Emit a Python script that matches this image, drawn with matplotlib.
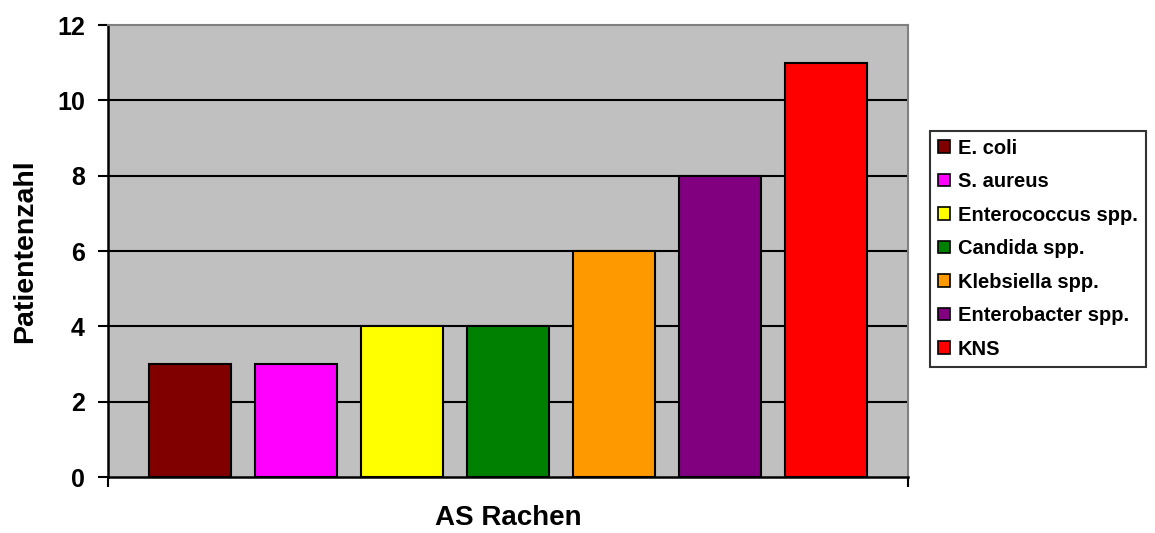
import matplotlib.pyplot as plt
from matplotlib.patches import Patch

categories = ['E. coli', 'S. aureus', 'Enterococcus spp.', 'Candida spp.',
              'Klebsiella spp.', 'Enterobacter spp.', 'KNS']
counts = [3, 3, 4, 4, 6, 8, 11]
colors = ['#800000', '#FF00FF', '#FFFF00', '#008000', '#FF9900', '#800080', '#FF0000']
y_ticks = [0, 2, 4, 6, 8, 10, 12]

plt.rcParams['font.family'] = ['Liberation Sans', 'DejaVu Sans']
plt.rcParams['font.weight'] = 'bold'

fig = plt.figure(figsize=(11.55, 5.33), dpi=100)
ax = fig.add_axes([0.0935, 0.105, 0.6925, 0.848])
ax.set_facecolor('#C0C0C0')

xs = list(range(len(categories)))
ax.bar(xs, counts, width=0.774, color=colors, edgecolor='black', linewidth=1.5, zorder=3)

ax.set_xlim(-0.77, len(categories) - 1 + 0.77)
ax.set_ylim(0, 12)

# horizontal grid lines (black, like the old Excel look)
for y in y_ticks[1:-1]:
    ax.axhline(y, color='black', linewidth=1.5, zorder=1)

ax.set_yticks(y_ticks)
ax.set_yticklabels([str(v) for v in y_ticks], fontsize=18, fontweight='bold')
ax.tick_params(axis='y', direction='out', length=7.2, width=1.5, pad=9.5)
ax.set_xticks(ax.get_xlim())
ax.set_xticklabels(['', ''])
ax.tick_params(axis='x', direction='out', length=7.2, width=1.5)

for side in ['left', 'bottom']:
    ax.spines[side].set_color('black')
    ax.spines[side].set_linewidth(1.8)
for side in ['top', 'right']:
    ax.spines[side].set_color('#808080')
    ax.spines[side].set_linewidth(1.5)

ax.set_ylabel('Patientenzahl', fontsize=20.5, fontweight='bold')
ax.yaxis.set_label_coords(-0.087, 0.5)
ax.set_xlabel('AS Rachen', fontsize=20, fontweight='bold', va='top')
ax.xaxis.set_label_coords(0.5, -0.062)

handles = [Patch(facecolor=c, edgecolor='black', linewidth=1.2) for c in colors]
leg = fig.legend(handles, categories, loc='upper left', bbox_to_anchor=(0.805, 0.755),
                 fontsize=14.5, frameon=True, fancybox=False, handlelength=0.6,
                 handleheight=0.6, handletextpad=0.4, labelspacing=0.72,
                 borderpad=0.4, borderaxespad=0)
leg.get_frame().set_edgecolor('black')
leg.get_frame().set_linewidth(1.5)
for t in leg.get_texts():
    t.set_fontweight('bold')

fig.savefig('out.png', dpi=100)
